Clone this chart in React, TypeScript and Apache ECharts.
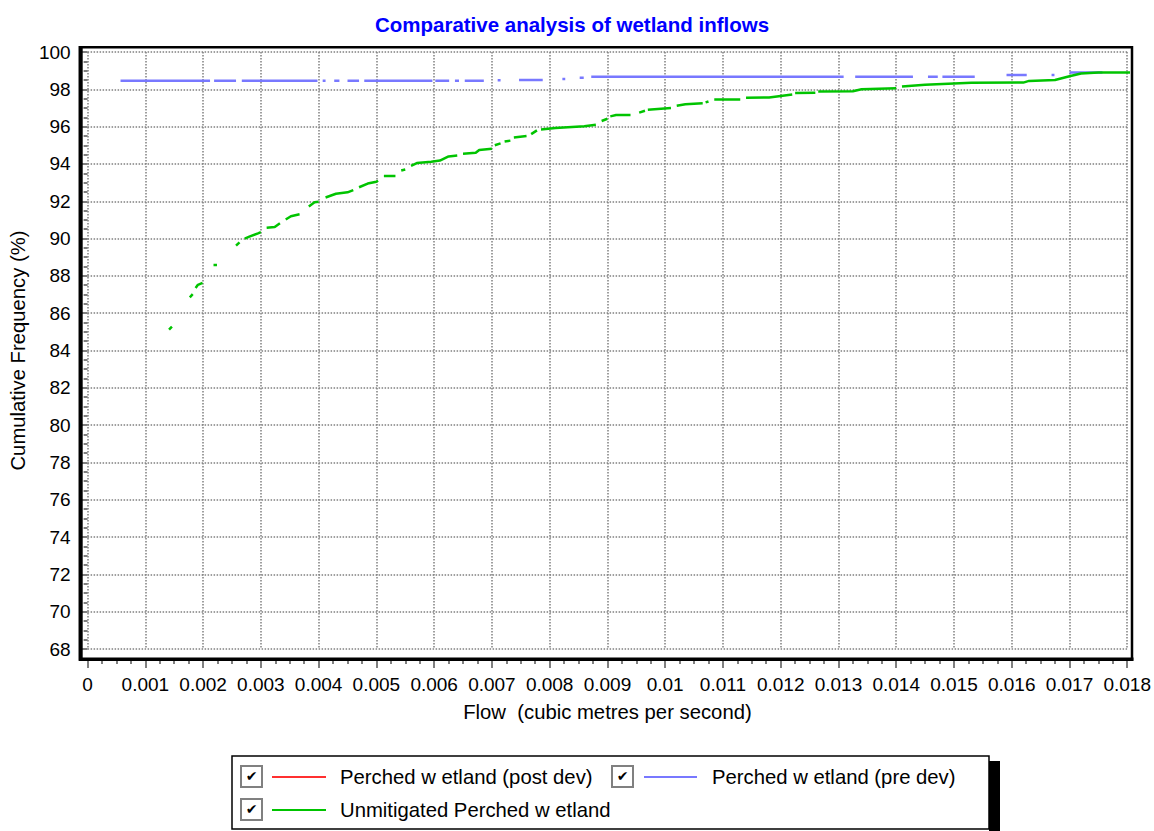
import React, { useEffect, useRef } from "react";
import * as echarts from "echarts";

const FONT = "'Liberation Sans', Arial, sans-serif";

// Green: Unmitigated Perched wetland (null = gap in the plotted curve)
const greenFlow = [
  0.00141, 0.00146, null,
  0.00177, 0.00182, null,
  0.00187, 0.00191, 0.00199, null,
  0.00218, 0.00224, null,
  0.00257, 0.00263, null,
  0.00272, 0.0028, 0.00295, 0.003, null,
  0.0031, 0.00324, 0.00333, null,
  0.00343, 0.00352, 0.00367, null,
  0.00383, 0.00393, 0.004, null,
  0.00412, 0.0043, 0.0045, 0.0046, null,
  0.0047, 0.00485, 0.005, 0.00503, null,
  0.00513, 0.00533, null,
  0.00543, 0.0055, null,
  0.0056, 0.0057, 0.00595, 0.0061, 0.00625, 0.0064, null,
  0.0065, 0.00672, 0.00678, 0.007, null,
  0.00705, 0.00715, null,
  0.00722, 0.00732, null,
  0.00738, 0.0076, null,
  0.00768, 0.00778, null,
  0.00785, 0.0081, 0.0086, 0.0088, null,
  0.0089, 0.009, null,
  0.00905, 0.00915, 0.0094, null,
  0.00955, 0.00965, null,
  0.0097, 0.0101, null,
  0.0102, 0.01035, 0.01065, null,
  0.0107, 0.01075, null,
  0.01085, 0.0113, null,
  0.0114, 0.0118, 0.0122, null,
  0.01225, 0.0126, null,
  0.01265, 0.01325, 0.0134, 0.014, null,
  0.0141, 0.0145, 0.0153, 0.0162, 0.0163, 0.01675, 0.017, 0.0172, 0.0175, 0.01809,
];
const greenFreq = [
  85.12, 85.28, null,
  86.85, 87.02, null,
  87.35, 87.52, 87.62, null,
  88.58, 88.58, null,
  89.62, 89.8, null,
  90.0, 90.1, 90.28, 90.35, null,
  90.58, 90.62, 90.82, null,
  91.02, 91.2, 91.3, null,
  91.72, 91.95, 91.97, null,
  92.2, 92.4, 92.48, 92.6, null,
  92.75, 92.95, 93.05, 93.1, null,
  93.35, 93.35, null,
  93.65, 93.7, null,
  93.9, 94.05, 94.12, 94.18, 94.4, 94.45, null,
  94.55, 94.6, 94.75, 94.82, null,
  95.0, 95.1, null,
  95.2, 95.25, null,
  95.42, 95.5, null,
  95.6, 95.8, null,
  95.85, 95.92, 96.02, 96.1, null,
  96.3, 96.42, null,
  96.55, 96.62, 96.62, null,
  96.75, 96.85, null,
  96.9, 97.0, null,
  97.12, 97.2, 97.25, null,
  97.3, 97.35, null,
  97.45, 97.45, null,
  97.55, 97.56, 97.72, null,
  97.8, 97.82, null,
  97.88, 97.9, 98.0, 98.06, null,
  98.15, 98.25, 98.35, 98.36, 98.45, 98.5, 98.7, 98.85, 98.9, 98.9,
];

// Blue: Perched wetland (pre dev)
const blueFlow = [
  0.00057, 0.00212, null,
  0.00219, 0.00257, null,
  0.00267, 0.00398, null,
  0.00407, 0.00412, null,
  0.00427, 0.00436, null,
  0.0045, 0.0047, null,
  0.00479, 0.00597, null,
  0.00602, 0.00626, null,
  0.00636, 0.00643, null,
  0.00653, 0.00686, null,
  0.0071, 0.00715, null,
  0.00747, 0.00788, null,
  0.00822, 0.00827, null,
  0.00852, 0.00859, null,
  0.00872, 0.01309, null,
  0.01329, 0.01429, null,
  0.01455, 0.01472, null,
  0.0148, 0.01536, null,
  0.01591, 0.01626, null,
  0.01669, 0.01674, null,
  0.017, 0.01757,
];
const blueFreq = [
  98.46, 98.46, null,
  98.46, 98.46, null,
  98.46, 98.46, null,
  98.46, 98.46, null,
  98.46, 98.46, null,
  98.46, 98.46, null,
  98.46, 98.46, null,
  98.46, 98.46, null,
  98.46, 98.46, null,
  98.46, 98.46, null,
  98.48, 98.48, null,
  98.5, 98.5, null,
  98.55, 98.55, null,
  98.62, 98.62, null,
  98.68, 98.68, null,
  98.68, 98.68, null,
  98.68, 98.68, null,
  98.68, 98.68, null,
  98.77, 98.77, null,
  98.77, 98.77, null,
  98.9, 98.9,
];

// Red: Perched wetland (post dev) — no visible trace in the picture
const redFlow: number[] = [];
const redFreq: number[] = [];

const legendNames = [
  "Perched w etland (post dev)",
  "Perched w etland (pre dev)",
  "Unmitigated Perched w etland",
];
const seriesColors = ["#ff3030", "#7878ff", "#00c400"];

function toData(xs: (number | null)[], ys: (number | null)[]) {
  return xs.map((x, i) => {
    const y = ys[i];
    if (x == null || y == null) return ["-", "-"];
    return [x, y];
  });
}

function checkbox(x: number, y: number) {
  return [
    {
      type: "rect",
      shape: { x, y, width: 21, height: 21 },
      style: { fill: "#fff", stroke: "#808080", lineWidth: 2 },
      z: 100,
    },
    {
      type: "text",
      x: x + 10.5,
      y: y + 10,
      style: {
        text: "✔",
        fontSize: 14,
        fontFamily: "'DejaVu Sans', sans-serif",
        fill: "#000",
        align: "center",
        verticalAlign: "middle",
      },
      z: 101,
    },
  ];
}

export default function App() {
  const ref = useRef<HTMLDivElement>(null);
  useEffect(() => {
    const chart = echarts.init(ref.current!, null, { renderer: "svg" });
    const tickLine = { color: "#808080", width: 2 };
    const option: any = {
      animation: false,
      backgroundColor: "#fff",
      textStyle: { fontFamily: FONT },
      title: {
        text: "Comparative analysis of wetland inflows",
        left: 567,
        top: 9,
        textAlign: "center",
        textStyle: { color: "#0000ff", fontWeight: "bold", fontSize: 20.5, fontFamily: FONT },
      },
      grid: { left: 84, right: 26, top: 52, bottom: 182, containLabel: false },
      xAxis: {
        type: "value",
        min: 0,
        max: 0.018,
        interval: 0.001,
        offset: 10,
        name: "Flow  (cubic metres per second)",
        nameLocation: "middle",
        nameGap: 43,
        nameTextStyle: { fontSize: 20.3, color: "#000", fontFamily: FONT },
        axisLine: { show: false },
        axisTick: { show: true, length: 9, lineStyle: tickLine },
        minorTick: { show: true, splitNumber: 4, length: 5, lineStyle: tickLine },
        axisLabel: {
          fontSize: 19,
          color: "#000",
          margin: 16,
          fontFamily: FONT,
          formatter: (v: number) => String(+v.toFixed(3)),
        },
        splitLine: { show: true, lineStyle: { color: "#808080", type: "dotted", width: 1.5 } },
      },
      yAxis: {
        type: "value",
        min: 68,
        max: 100,
        interval: 2,
        offset: 4,
        name: "Cumulative Frequency (%)",
        nameLocation: "middle",
        nameGap: 49,
        nameTextStyle: { fontSize: 20.3, color: "#000", fontFamily: FONT },
        axisLine: { show: false },
        axisTick: { show: true, length: 6, lineStyle: tickLine },
        minorTick: { show: true, splitNumber: 4, length: 4, lineStyle: tickLine },
        axisLabel: { fontSize: 19, color: "#000", margin: 13, fontFamily: FONT },
        splitLine: { show: true, lineStyle: { color: "#808080", type: "dotted", width: 1.5 } },
      },
      series: [
        {
          name: legendNames[0],
          type: "line",
          data: toData(redFlow, redFreq),
          showSymbol: false,
          symbol: "none",
          connectNulls: false,
          clip: false,
          lineStyle: { color: seriesColors[0], width: 2 },
        },
        {
          name: legendNames[1],
          type: "line",
          data: toData(blueFlow, blueFreq),
          showSymbol: false,
          symbol: "none",
          connectNulls: false,
          clip: false,
          lineStyle: { color: seriesColors[1], width: 2.5 },
        },
        {
          name: legendNames[2],
          type: "line",
          data: toData(greenFlow, greenFreq),
          showSymbol: false,
          symbol: "none",
          connectNulls: false,
          clip: false,
          lineStyle: { color: seriesColors[2], width: 2.5 },
        },
      ],
      graphic: [
        // plot frame
        {
          type: "rect",
          shape: { x: 80, y: 47.3, width: 1052, height: 612 },
          style: { fill: "none", stroke: "#000", lineWidth: 2.5 },
          z: 50,
        },
        { type: "line", shape: { x1: 80.7, y1: 46, x2: 80.7, y2: 661 }, style: { stroke: "#000", lineWidth: 4 }, z: 51 },
        { type: "line", shape: { x1: 79, y1: 659.3, x2: 1133.5, y2: 659.3 }, style: { stroke: "#000", lineWidth: 3.5 }, z: 51 },
        // legend
        { type: "rect", shape: { x: 989, y: 761, width: 11, height: 75 }, style: { fill: "#000" }, z: 90 },
        {
          type: "rect",
          shape: { x: 232, y: 756, width: 757, height: 73 },
          style: { fill: "#fff", stroke: "#000", lineWidth: 1.5 },
          z: 91,
        },
        ...checkbox(241, 766),
        ...checkbox(612, 766),
        ...checkbox(241, 799),
        { type: "line", shape: { x1: 272, y1: 777, x2: 326, y2: 777 }, style: { stroke: seriesColors[0], lineWidth: 2 }, z: 100 },
        { type: "line", shape: { x1: 644, y1: 777, x2: 697, y2: 777 }, style: { stroke: seriesColors[1], lineWidth: 2 }, z: 100 },
        { type: "line", shape: { x1: 272, y1: 810, x2: 326, y2: 810 }, style: { stroke: seriesColors[2], lineWidth: 2 }, z: 100 },
        {
          type: "text",
          x: 340,
          y: 777,
          style: { text: legendNames[0], fontSize: 20.3, fontFamily: FONT, fill: "#000", verticalAlign: "middle" },
          z: 100,
        },
        {
          type: "text",
          x: 712,
          y: 777,
          style: { text: legendNames[1], fontSize: 20.3, fontFamily: FONT, fill: "#000", verticalAlign: "middle" },
          z: 100,
        },
        {
          type: "text",
          x: 340,
          y: 810,
          style: { text: legendNames[2], fontSize: 20.3, fontFamily: FONT, fill: "#000", verticalAlign: "middle" },
          z: 100,
        },
      ],
    };
    chart.setOption(option);
    return () => chart.dispose();
  }, []);
  return (
    <div
      ref={ref}
      style={{ position: "fixed", left: 0, top: 0, width: 1154, height: 831, background: "#fff" }}
    />
  );
}
